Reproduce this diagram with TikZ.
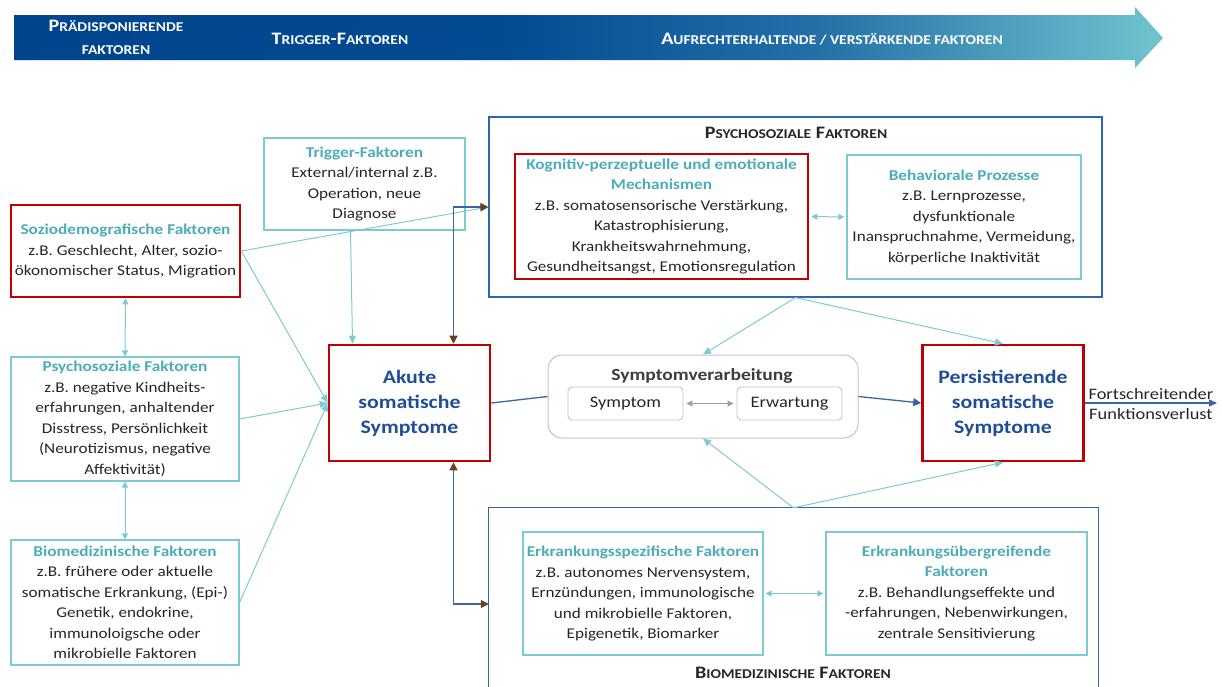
\documentclass[tikz,border=0pt]{standalone}
\usepackage{fontspec}
\setmainfont{Carlito}[FakeStretch=1.15]
\usetikzlibrary{arrows.meta,positioning}

\definecolor{tuerkis}{RGB}{75,172,186}
\definecolor{tuerkislinie}{RGB}{125,202,212}
\definecolor{kernrot}{RGB}{192,0,0}
\definecolor{symblau}{RGB}{31,78,150}
\definecolor{gruppenblau}{RGB}{47,102,172}
\definecolor{linkblau}{RGB}{58,100,168}
\definecolor{kopfbraun}{RGB}{110,62,30}
\definecolor{rahmengrau}{RGB}{195,195,195}
\definecolor{pfeilgrau}{RGB}{160,160,160}
\definecolor{schrift}{RGB}{38,38,38}

% banner: dark blue on the left, fading to turquoise
\pgfdeclarehorizontalshading{bannerverlauf}{100bp}{rgb(0bp)=(0,0.27,0.55);
  rgb(25bp)=(0,0.27,0.55); rgb(46bp)=(0.01,0.29,0.57);
  rgb(60bp)=(0.14,0.44,0.66); rgb(75bp)=(0.44,0.77,0.81); rgb(100bp)=(0.44,0.77,0.81)}

\newcommand\kap[1]{{\fontsize{13.5}{13.5}\selectfont #1}}
\newcommand\titel[1]{{\fontsize{15}{20.5}\selectfont\textcolor{tuerkis}{\bfseries #1}}}

\tikzset{
  faktor/.style={draw=tuerkislinie, line width=1.1pt, align=center, inner sep=0pt,
    text=schrift, font=\fontsize{14.9}{20.5}\selectfont},
  kern/.style={faktor, draw=kernrot, line width=2.6pt},
  symptom/.style={draw=kernrot, line width=2.6pt, align=center, inner sep=0pt,
    minimum width=161pt, minimum height=116pt, text=symblau,
    font=\fontsize{19}{25}\selectfont\bfseries},
  gruppe/.style={draw=gruppenblau, line width=1.2pt},
  gruppentitel/.style={text=schrift, font=\fontsize{17.5}{17.5}\selectfont\bfseries},
  bannertext/.style={text=white, align=center, font=\fontsize{17.5}{23}\selectfont\bfseries},
  verarb/.style={draw=rahmengrau, line width=1pt, rounded corners=14pt},
  teil/.style={draw=rahmengrau, line width=0.9pt, rounded corners=4pt, inner sep=0pt,
    text=schrift, font=\fontsize{16}{16}\selectfont},
  zu/.style={draw=tuerkislinie, line width=1pt, -{Triangle[length=8pt,width=7pt]}},
  wechsel/.style={draw=tuerkislinie, line width=1pt,
    {Triangle[length=6pt,width=6pt]}-{Triangle[length=6pt,width=6pt]}},
  blau/.style={draw=linkblau, line width=1.3pt},
  rueck/.style={blau, {Triangle[length=8pt,width=8pt,color=kopfbraun]}-{Triangle[length=8pt,width=8pt,color=kopfbraun]}},
}

\begin{document}
\begin{tikzpicture}[x=1pt,y=-1pt]
\useasboundingbox (0,0) rectangle (1222,686);

% time line on top
\shade[shading=bannerverlauf] (14,15) -- (1135,15) -- (1135,7) -- (1163,38)
  -- (1135,68) -- (1135,60) -- (14,60) -- cycle;
\node[bannertext] (praed) at (116,37) {P\kap{RÄDISPONIERENDE}\\\kap{FAKTOREN}};
\node[bannertext] (trig) at (340,39) {T\kap{RIGGER}-F\kap{AKTOREN}};
\node[bannertext] (aufr) at (832,39) {A\kap{UFRECHTERHALTENDE / VERSTÄRKENDE FAKTOREN}};

% the two groups on the right
\node[gruppe, minimum width=613pt, minimum height=180pt] (psyG) at (795.5,207) {};
\node[minimum width=609pt, minimum height=192pt] (bioG) at (793.5,604) {};
\draw[gruppe] (bioG.south west) -- (bioG.north west) -- (bioG.north east) -- (bioG.south east);
\node[gruppentitel] (psyT) at (796,133) {P\kap{SYCHOSOZIALE} F\kap{AKTOREN}};
\node[gruppentitel] (bioT) at (793,673) {B\kap{IOMEDIZINISCHE} F\kap{AKTOREN}};

% left column
\node[kern, minimum width=229pt, minimum height=92pt] (sozio) at (125.5,251)
  {\titel{Soziodemografische Faktoren}\\z.B. Geschlecht, Alter, sozio-\\ökonomischer Status, Migration};
\node[faktor, minimum width=228pt, minimum height=124pt] (psyL) at (125,419)
  {\titel{Psychosoziale Faktoren}\\z.B. negative Kindheits-\\erfahrungen, anhaltender\\Disstress, Persönlichkeit\\(Neurotizismus, negative\\Affektivität)};
\node[faktor, minimum width=228pt, minimum height=125pt] (bioL) at (125,602.5)
  {\titel{Biomedizinische Faktoren}\\z.B. frühere oder aktuelle\\somatische Erkrankung, (Epi-)\\Genetik, endokrine,\\immunoloigsche oder\\mikrobielle Faktoren};
\node[faktor, minimum width=201pt, minimum height=92pt] (trigger) at (364.5,184)
  {\titel{Trigger-Faktoren}\\External/internal z.B.\\Operation, neue\\Diagnose};

% symptoms
\node[symptom] (akut) at (409.5,403) {Akute\\somatische\\Symptome};
\node[symptom] (persist) at (1003,403) {Persistierende\\somatische\\Symptome};

% processing of symptoms
\node[verarb, minimum width=310pt, minimum height=83pt] (verarb) at (703,396.5) {};
\node[text=schrift!90, font=\fontsize{17}{17}\selectfont\bfseries] (verarbT) at (702,376) {Symptomverarbeitung};
\node[teil, minimum width=115pt, minimum height=33pt] (symptom) at (625.5,403.5) {Symptom};
\node[teil, minimum width=105pt, minimum height=33pt] (erwartung) at (789.5,403.5) {Erwartung};

% inside the psychosocial group
\node[kern, minimum width=293pt, minimum height=125pt] (kogn) at (661.5,216.5)
  {\titel{Kognitiv-perzeptuelle und emotionale}\\\titel{Mechanismen}\\z.B. somatosensorische Verstärkung,\\Katastrophisierung,\\Krankheitswahrnehmung,\\Gesundheitsangst, Emotionsregulation};
\node[faktor, minimum width=234pt, minimum height=124pt] (behav) at (964,217)
  {\titel{Behaviorale Prozesse}\\z.B. Lernprozesse,\\dysfunktionale\\Inanspruchnahme, Vermeidung,\\körperliche Inaktivität};

% inside the biomedical group
\node[faktor, minimum width=240pt, minimum height=123pt] (spez) at (643,593.5)
  {\titel{Erkrankungsspezifische Faktoren}\\z.B. autonomes Nervensystem,\\Ernzündungen, immunologische\\und mikrobielle Faktoren,\\Epigenetik, Biomarker};
\node[faktor, minimum width=261pt, minimum height=123pt] (ueber) at (956.5,593.5)
  {\titel{Erkrankungsübergreifende}\\\titel{Faktoren}\\z.B. Behandlungseffekte und\\-erfahrungen, Nebenwirkungen,\\zentrale Sensitivierung};

% turquoise links
\draw[zu] (sozio.east) -- (psyG.west);
\draw[zu] (sozio.east) -- (akut.west);
\draw[zu] (psyL.east) -- (akut.west);
\draw[zu] (bioL.east) -- (akut.west);
\draw[zu] ([xshift=-14pt]trigger.south) -- ([xshift=-57pt]akut.north);
\draw[wechsel] (sozio.south) -- (psyL.north);
\draw[wechsel] (psyL.south) -- (bioL.north);
\draw[wechsel, shorten <=2pt, shorten >=2pt] (kogn.east) -- (behav.west);
\draw[wechsel, shorten <=2pt, shorten >=2pt] (spez.east) -- (ueber.west);
\draw[zu] (psyG.south) -- (verarb.north);
\draw[zu] (psyG.south) -- (persist.north);
\draw[zu] (bioG.north) -- (verarb.south);
\draw[zu] (bioG.north) -- (persist.south);
\draw[draw=pfeilgrau, line width=1pt, {Triangle[length=6pt,width=6pt]}-{Triangle[length=6pt,width=6pt]},
  shorten <=3pt, shorten >=3pt] (symptom.east) -- (erwartung.west);

% blue links
\draw[rueck] ([xshift=44pt]akut.north) |- (psyG.west);
\draw[rueck] ([xshift=44pt]akut.south) |- (bioG.west);
\draw[blau] (akut.east) -- (verarb.west);
\draw[blau, -{Triangle[length=8pt,width=8pt]}] (verarb.east) -- (persist.west);
\coordinate (verlust) at (1217,403);
\draw[blau, -{Triangle[length=8pt,width=7pt]}] (persist.east) -- (verlust)
  node[midway, above=-1pt, text=schrift, font=\fontsize{16}{16}\selectfont] (fort) {Fortschreitender}
  node[midway, below=1pt, text=schrift, font=\fontsize{16}{16}\selectfont] (funk) {Funktionsverlust};
\end{tikzpicture}
\end{document}
